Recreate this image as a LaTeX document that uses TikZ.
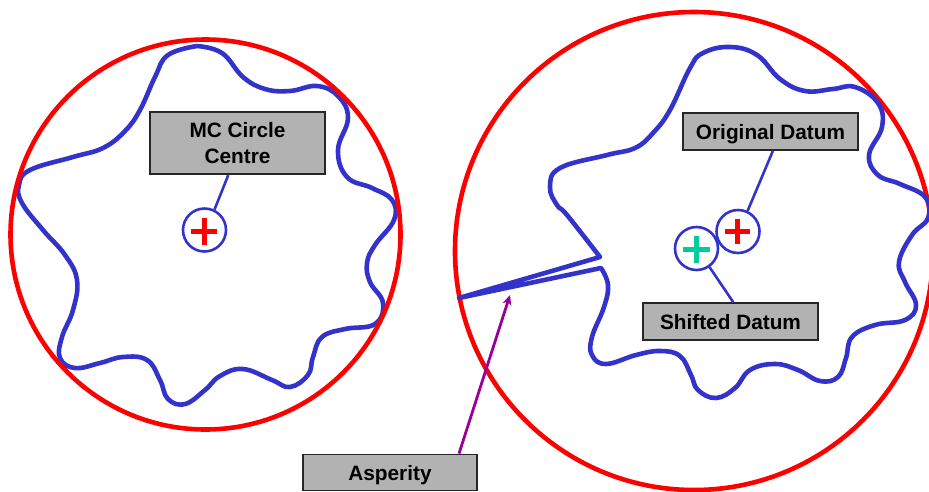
\documentclass[tikz,border=0pt]{standalone}
\usepackage{fontspec}
\setmainfont{Liberation Sans}
\usetikzlibrary{arrows.meta}
\definecolor{blobblue}{HTML}{3333CC}
\definecolor{boxgrey}{HTML}{B2B2B2}
\definecolor{mcred}{HTML}{FF0000}
\definecolor{shiftgreen}{HTML}{00CC99}
\definecolor{arrowpurple}{HTML}{990099}
\tikzset{
  x=1pt,y=-1pt,
  blob/.style={draw=blobblue,line width=4.6pt,line join=round},
  bigcircle/.style={draw=mcred,line width=4.6pt},
  label box/.style={draw=black!85,line width=1.8pt,fill=boxgrey,inner sep=0pt,align=center,
    font=\fontsize{20.8}{25.5}\selectfont\bfseries,text=black},
  one line/.style={text height=16pt,text depth=0pt},
  datum/.style={circle,draw=blobblue,line width=2.6pt,fill=white,minimum size=43pt,inner sep=0pt},
  leader/.style={draw=blobblue,line width=2.6pt},
  pluslines/.style={line width=5pt}
}
\begin{document}
\begin{tikzpicture}
\useasboundingbox (0,0) rectangle (929,491);
% left profile
\path[blob] plot[smooth,tension=0.7] coordinates {
(197,46) (222,53) (243,77) (265,89) (290,91) (317,86) (338,96) (348,118) (338,150) (347,177) (372,188) (392,200) (394,220) (375,245) (367,263) (370,282) (383,303) (375,324) (345,329) (322,337) (313,357) (308,375) (290,387) (272,380) (243,369) (220,376) (205,390) (185,404) (168,399) (160,380) (147,360) (123,357) (100,363) (75,368) (60,358) (62,337) (73,310) (77,280) (65,255) (43,230) (22,203) (19,185) (30,170) (73,157) (103,148) (125,131) (140,110) (155,77) (168,55) (197,46)};
\node[circle,bigcircle,minimum size=390pt,inner sep=0pt] (mcl) at (205.5,234.5) {};
% right circle, then right profile over it
\draw[bigcircle] (694,251) circle[radius=239];
\path[blob] plot[smooth,tension=0.7] coordinates {
(601,268) (608,285) (604,307) (592,337) (592,355) (606,364) (636,355) (660,351) (680,356) (691,375) (698,390) (716,398) (735,388) (750,370) (775,364) (798,370) (820,381) (838,377) (846,358) (852,337) (875,325) (905,320) (916,305) (905,282) (899,262) (912,235) (928,218) (925,197) (900,184) (878,175) (869,155) (882,127) (878,103) (855,87) (833,89) (805,91) (780,79) (757,55) (730,47) (703,53) (690,68) (670,110) (653,133) (635,148) (607,155) (560,168) (550,187) (557,205) (567,215) (600,257)}
-- (459,298) -- cycle;
% datum markers
\node[datum] (mc) at (204.5,230) {};
\node[datum] (orig) at (738,231.5) {};
\node[datum] (shift) at (696.5,248.5) {};
\draw[pluslines,mcred] (191,231) -- (217,231) (204,218) -- (204,245);
\draw[pluslines,mcred] (725,231) -- (750,231) (737.5,219) -- (737.5,244);
\draw[pluslines,shiftgreen] (683,249) -- (710,249) (696.5,236) -- (696.5,263);
% labels
\node[label box,minimum width=175pt,minimum height=62.5pt] (mcbox) at (237.5,143) {MC Circle\\Centre};
\node[label box,one line,minimum width=175pt,minimum height=37pt] (origbox) at (770.5,131.5) {Original Datum};
\node[label box,one line,minimum width=175pt,minimum height=37pt] (shiftbox) at (730.5,321.5) {Shifted Datum};
\node[label box,one line,minimum width=174pt,minimum height=36pt] (aspbox) at (390,472.5) {Asperity};
% leaders
\draw[leader] (mcbox.254.7) -- (mc.64.6);
\draw[leader] (origbox.277) -- (orig.65);
\draw[leader] (shiftbox.82.7) -- (shift.-55);
\coordinate (asptail) at (459,454);
\coordinate (asptip) at (510,295);
\draw[draw=arrowpurple,line width=2.8pt,-{Stealth[length=10pt,width=9pt]}] (aspbox.north -| asptail) -- (asptip);
\end{tikzpicture}
\end{document}
